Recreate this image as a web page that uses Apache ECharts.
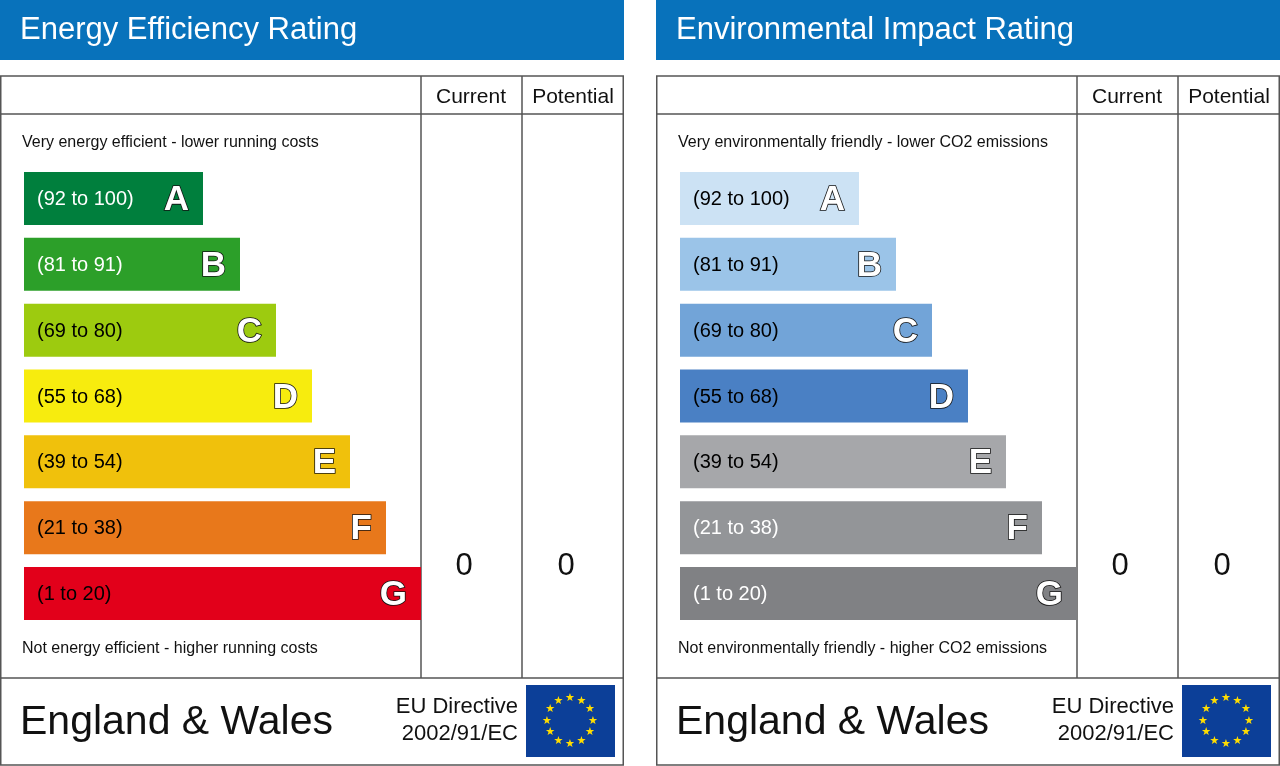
<!DOCTYPE html>
<html><head><meta charset="utf-8">
<script src="https://cdn.jsdelivr.net/npm/echarts@6/dist/echarts.min.js"></script>
<style>html,body{margin:0;padding:0;background:#fff}#c{width:1280px;height:766px}</style>
</head><body><div id="c"></div>
<script>
const bands = ['A','B','C','D','E','F','G'];
const ranges = ['(92 to 100)','(81 to 91)','(69 to 80)','(55 to 68)','(39 to 54)','(21 to 38)','(1 to 20)'];
const barLengths = [179,216,252,288,326,362,397];
const eeColors = ['#007f3d','#2c9f29','#9dcb0f','#f7ec0e','#f0c10c','#e8781b','#e2001a'];
const eeText = ['#fff','#fff','#000','#000','#000','#000','#000'];
const eiColors = ['#cce2f4','#9bc4e8','#72a4d8','#4a80c4','#a6a7aa','#939598','#808184'];
const eiText = ['#000','#000','#000','#000','#000','#fff','#fff'];
const titles = ['Energy Efficiency Rating','Environmental Impact Rating'];
const topNotes = ['Very energy efficient - lower running costs','Very environmentally friendly - lower CO2 emissions'];
const bottomNotes = ['Not energy efficient - higher running costs','Not environmentally friendly - higher CO2 emissions'];
const currentVals = [0,0];
const potentialVals = [0,0];

const chart = echarts.init(document.getElementById('c'));
const F = 'Liberation Sans, Arial, sans-serif';
const line = '#555';
function panel(ox, i){
  const g = [];
  g.push({type:'rect',shape:{x:ox,y:0,width:624,height:60},style:{fill:'#0872bb'}});
  g.push({type:'text',x:ox+20,y:30,style:{text:titles[i],fill:'#fff',font:'31px '+F,textVerticalAlign:'middle'}});
  g.push({type:'rect',shape:{x:ox+0.75,y:76,width:622.5,height:689},style:{fill:'none',stroke:line,lineWidth:1.5}});
  const L=(x1,y1,x2,y2)=>g.push({type:'line',shape:{x1:ox+x1,y1,x2:ox+x2,y2},style:{stroke:line,lineWidth:1.5}});
  L(0,114,624,114); L(0,678,624,678); L(421,76,421,678); L(522,76,522,678);
  g.push({type:'text',x:ox+471,y:97,style:{text:'Current',fill:'#111',font:'21px '+F,textAlign:'center',textVerticalAlign:'middle'}});
  g.push({type:'text',x:ox+573,y:97,style:{text:'Potential',fill:'#111',font:'21px '+F,textAlign:'center',textVerticalAlign:'middle'}});
  g.push({type:'text',x:ox+22,y:143,style:{text:topNotes[i],fill:'#111',font:'16px '+F,textVerticalAlign:'middle'}});
  g.push({type:'text',x:ox+22,y:649,style:{text:bottomNotes[i],fill:'#111',font:'16px '+F,textVerticalAlign:'middle'}});
  g.push({type:'text',x:ox+464,y:566,style:{text:String(currentVals[i]),fill:'#111',font:'31px '+F,textAlign:'center',textVerticalAlign:'middle'}});
  g.push({type:'text',x:ox+566,y:566,style:{text:String(potentialVals[i]),fill:'#111',font:'31px '+F,textAlign:'center',textVerticalAlign:'middle'}});
  g.push({type:'text',x:ox+20,y:723,style:{text:'England & Wales',fill:'#111',font:'41px '+F,textVerticalAlign:'middle'}});
  g.push({type:'text',x:ox+518,y:707,style:{text:'EU Directive',fill:'#111',font:'22px '+F,textAlign:'right',textVerticalAlign:'middle'}});
  g.push({type:'text',x:ox+518,y:734,style:{text:'2002/91/EC',fill:'#111',font:'22px '+F,textAlign:'right',textVerticalAlign:'middle'}});
  g.push({type:'rect',shape:{x:ox+526,y:685,width:89,height:72},style:{fill:'#0c3f98'}});
  for(let k=0;k<12;k++){const a=k*Math.PI/6;
    g.push({type:'text',x:ox+570+23*Math.sin(a),y:721-23*Math.cos(a),style:{text:'★',fill:'#ffdd00',font:'11px DejaVu Sans',textAlign:'center',textVerticalAlign:'middle'}});}
  return g;
}
function series(idx, colors, txt){
  return {type:'custom',xAxisIndex:idx,yAxisIndex:idx,
    data:barLengths.map((v,k)=>[v,k]),
    renderItem:(p,api)=>{
      const k=api.value(1), s=api.coord([0,k]), e=api.coord([api.value(0),k]);
      const h=53;
      return {type:'group',children:[
        {type:'rect',shape:{x:s[0],y:s[1]-h/2,width:e[0]-s[0],height:h},style:{fill:colors[k]}},
        {type:'text',x:s[0]+13,y:s[1]+1,style:{text:ranges[k],fill:txt[k],font:'20px '+F,textVerticalAlign:'middle'}},
        {type:'text',x:e[0]-14,y:s[1]+2,style:{text:bands[k],fill:'#fff',stroke:'#111',lineWidth:1.6,font:'bold 35px '+F,textAlign:'right',textVerticalAlign:'middle'}}
      ]};
    }};
}
chart.setOption({
  animation:false,
  grid:[{left:24,top:165.6,width:397,height:460.8},{left:680,top:165.6,width:397,height:460.8}],
  xAxis:[0,1].map(i=>({type:'value',gridIndex:i,min:0,max:397,show:false})),
  yAxis:[0,1].map(i=>({type:'category',gridIndex:i,data:bands,inverse:true,show:false})),
  graphic:panel(0,0).concat(panel(656,1)),
  series:[series(0,eeColors,eeText),series(1,eiColors,eiText)]
});
</script></body></html>
